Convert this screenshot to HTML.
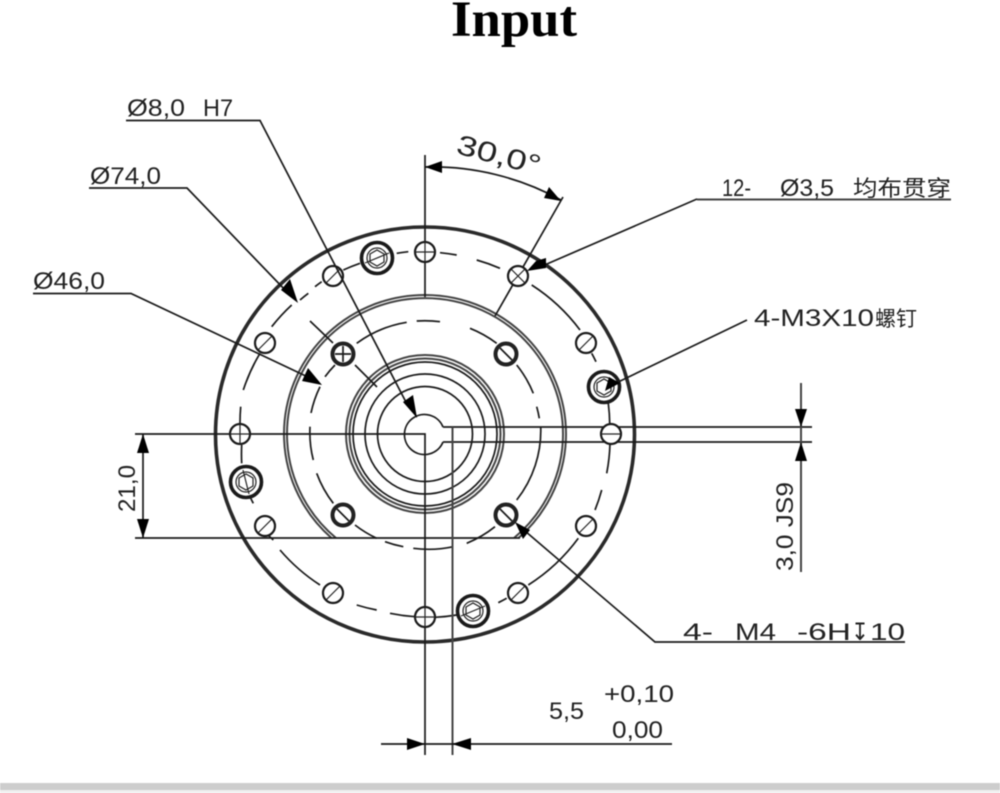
<!DOCTYPE html>
<html><head><meta charset="utf-8"><style>
html,body{margin:0;padding:0;background:#fff;width:1000px;height:793px;overflow:hidden}
svg{display:block;filter:blur(.5px)}
text{font-family:"Liberation Sans","Noto Sans CJK SC",sans-serif;font-size:24px;fill:#222}
.l{fill:none;stroke:#1a1a1a;stroke-width:1.7}
.g{fill:none;stroke:#444;stroke-width:2}
.d{fill:none;stroke:#1a1a1a;stroke-width:1.7}
.h{fill:#fff;stroke:#1a1a1a;stroke-width:2.2}
.t{fill:none;stroke:#222;stroke-width:1.2}
.a{fill:#000;stroke:none}
</style></head><body>
<svg width="1000" height="793" viewBox="0 0 1000 793" xmlns="http://www.w3.org/2000/svg">
<rect width="1000" height="793" fill="#fff"/>
<rect x="0" y="783" width="1000" height="7" fill="#cdcdcd"/>
<rect x="0" y="790" width="1000" height="3" fill="#f0f0f0"/>
<text x="451" y="36" textLength="126" lengthAdjust="spacingAndGlyphs" style="font-family:'Liberation Serif',serif;font-weight:bold;font-size:51px;fill:#000">Input</text>

<!-- main rings -->
<ellipse cx="425" cy="434.5" rx="209.5" ry="207.5" fill="none" stroke="#2a2a2a" stroke-width="3.6"/>
<path class="g" d="M331.5 538 A141 139 0 1 1 518.500 538"/>
<path class="g" d="M336 538 A138 136 0 1 1 514 538"/>
<circle cx="425" cy="434" r="79" class="g"/>
<circle cx="425" cy="434" r="75.5" class="g"/>
<circle cx="425" cy="434" r="72" class="l"/>
<circle cx="425" cy="434" r="60" class="l"/>
<circle cx="425" cy="434" r="47.5" class="l"/>

<!-- bolt circle -->
<path class="d" d="M440 252.7A185.5 183 0 0 1 456.7 255M476.7 260A185.5 183 0 0 1 500 268.3M531.7 285A185.5 183 0 0 1 580 330M591.7 353.3A185.5 183 0 0 1 596 361.7M608.3 403.3A185.5 183 0 0 1 609.7 423.3M610 443.3A185.5 183 0 0 1 606.7 473.3M601.7 490A185.5 183 0 0 1 595 510M578.3 538.3A185.5 183 0 0 1 528.3 585M506.7 598.3A185.5 183 0 0 1 498.3 602.7M456.7 615A185.5 183 0 0 1 435 617.3M415 616.7A185.5 183 0 0 1 390 613.3M376.7 610A185.5 183 0 0 1 356.7 605M320 585A185.5 183 0 0 1 280 550M273.3 540A185.5 183 0 0 1 268 535M253.3 503.3A185.5 183 0 0 1 250 496.7M241.7 463.3A185.5 183 0 0 1 241.7 445M240 423.3A185.5 183 0 0 1 240.7 406.7M243.3 390A185.5 183 0 0 1 260 353.3M271.7 326.7A185.5 183 0 0 1 291.7 305M300 300A185.5 183 0 0 1 308.3 293.3M315 286.7A185.5 183 0 0 1 321.7 281.7M343.3 270A185.5 183 0 0 1 360 263.3M396.7 253.3A185.5 183 0 0 1 408.3 251.7"/>
<!-- inner pitch circle -->
<path class="d" d="M356.7 343.3A115 113 0 0 1 406.7 322.3M416.7 321A115 113 0 0 1 440 321.7M470 328.3A115 113 0 0 1 496.7 343.3M516.7 365A115 113 0 0 1 533.3 393.3M536.7 406.7A115 113 0 0 1 539.3 418.3M540.7 426.7A115 113 0 0 1 516.7 500M495 526.7A115 113 0 0 1 466.7 543.3M453.3 546.7A115 113 0 0 1 413.3 548.3M403.3 546.7A115 113 0 0 1 385 541.7M376.7 538.3A115 113 0 0 1 355 525M333.3 503.3A115 113 0 0 1 316.7 473.3M313.3 460A115 113 0 0 1 310 426.7M311 413A115 113 0 0 1 320 386.7M325 376.7A115 113 0 0 1 335 365"/>
<path class="l" d="M310 321L333 343M355 365L377 387"/>

<!-- key bore -->
<path class="l" d="M443 427A20 20 0 1 0 443 442"/>
<path class="l" d="M443 427H812M443 442H812"/>
<path class="l" d="M135 434H425V755M135 538H520"/>
<path class="g" d="M452.500 427V755"/>
<path class="l" d="M425 155V242M425 262V297"/>
<path class="l" d="M563 197L495 316"/>

<!-- 12 thru holes -->
<circle class="h" cx="518" cy="276" r="10"/><circle class="h" cx="586" cy="343" r="10"/>
<circle class="h" cx="611" cy="434" r="10"/><circle class="h" cx="586" cy="526" r="10"/>
<circle class="h" cx="518" cy="593" r="10"/><circle class="h" cx="425" cy="617" r="10"/>
<circle class="h" cx="333" cy="593" r="10"/><circle class="h" cx="265" cy="526" r="10"/>
<circle class="h" cx="240" cy="434" r="10"/><circle class="h" cx="265" cy="343" r="10"/>
<circle class="h" cx="333" cy="276" r="10"/><circle class="h" cx="425" cy="252" r="10"/>
<path class="t" d="M415 252H435M425 242V262M415 617H435M425 607V627M230 434H250M240 424V444M601 434H621M511 283L525 269M511 269L525 283M258 350L272 336M579 350L593 336M258 533L272 519M579 533L593 519M326 600L340 586M326 283L340 269M511 600L525 586"/>

<!-- M4 holes -->
<circle cx="343" cy="354" r="10.500" fill="#fff" stroke="#222" stroke-width="4"/>
<circle cx="506" cy="354" r="10.500" fill="#fff" stroke="#222" stroke-width="4"/>
<circle cx="506" cy="515" r="10.500" fill="#fff" stroke="#222" stroke-width="4"/>
<circle cx="343" cy="515" r="10.500" fill="#fff" stroke="#222" stroke-width="4"/>
<path class="l" d="M335 354H351M343 346V362M500 348L512 360M337 509L349 521M500 509L512 521"/>

<!-- screws -->
<circle cx="377" cy="258" r="15.500" fill="#fff" stroke="#1a1a1a" stroke-width="3.600"/><circle cx="377" cy="258" r="10" class="t"/>
<path class="t" d="M370 254L377 250L384 254V262L377 266L370 262Z M365 263L389 253"/>
<circle cx="604" cy="387" r="15.500" fill="#fff" stroke="#1a1a1a" stroke-width="3.600"/><circle cx="604" cy="387" r="10" class="t"/>
<path class="t" d="M597 383L604 379L611 383V391L604 395L597 391Z"/>
<circle cx="473" cy="611" r="15.500" fill="#fff" stroke="#1a1a1a" stroke-width="3.600"/><circle cx="473" cy="611" r="10" class="t"/>
<path class="t" d="M466 607L473 603L480 607V615L473 619L466 615Z M461 616L485 606"/>
<circle cx="246" cy="482" r="15.500" fill="#fff" stroke="#1a1a1a" stroke-width="3.600"/><circle cx="246" cy="482" r="10" class="t"/>
<path class="t" d="M239 478L246 474L253 478V486L246 490L239 486Z M243 470L249 494"/>

<!-- leaders -->
<path class="l" d="M126 120.500H260L408 406"/>
<path class="a" d="M417 418L403 402L413 395Z"/>
<path class="l" d="M89 188H187L288 293"/>
<path class="a" d="M298 303L281 290L290 279Z"/>
<path class="l" d="M33 293.500H131L310 378"/>
<path class="a" d="M322 385L302 381L308 368Z"/>
<path class="g" d="M697 199.500H951" stroke-width="2.200"/>
<path class="l" d="M697 199L540 267"/>
<path class="a" d="M527 271L536 261L546 258L546 268Z"/>
<path class="l" d="M747 320L614 384"/>
<path class="a" d="M605 391L609 377L620 383Z"/>
<path class="l" d="M905 642H655L525 531"/>
<path class="a" d="M515 522L530 530L523 539Z"/>

<!-- 30 deg arc -->
<path class="l" d="M425 167A267 267 0 0 1 561 200"/>
<path class="a" d="M425 167L442 161V173Z"/>
<path class="a" d="M561 201L544 198L549 187Z"/>

<!-- 21,0 -->
<path class="l" d="M143 434V538"/>
<path class="a" d="M143 434L137 453H149Z"/>
<path class="a" d="M143 538L137 519H149Z"/>

<!-- 3,0 JS9 -->
<path class="g" d="M801 383V572"/>
<path class="a" d="M801 427L795 409H807Z"/>
<path class="a" d="M801 442L795 461H807Z"/>

<!-- 5,5 -->
<path class="l" d="M381 744H672"/>
<path class="a" d="M425 744L407 738V750Z"/>
<path class="a" d="M452 744L471 738V750Z"/>

<!-- labels -->
<text x="127" y="116" textLength="58" lengthAdjust="spacingAndGlyphs">Ø8,0</text>
<text x="203" y="116" textLength="30" lengthAdjust="spacingAndGlyphs">H7</text>
<text x="90" y="184" textLength="71" lengthAdjust="spacingAndGlyphs">Ø74,0</text>
<text x="33" y="289" textLength="72" lengthAdjust="spacingAndGlyphs">Ø46,0</text>
<text transform="translate(455 153) rotate(15)" textLength="86" lengthAdjust="spacingAndGlyphs" style="font-size:28px">30,0°</text>
<text x="722" y="196" textLength="29" lengthAdjust="spacingAndGlyphs">12-</text>
<text x="780" y="196" textLength="54" lengthAdjust="spacingAndGlyphs">Ø3,5</text>
<text x="853" y="196" textLength="98" lengthAdjust="spacingAndGlyphs" style="font-size:22px">均布贯穿</text>
<text x="754" y="326" textLength="120" lengthAdjust="spacingAndGlyphs">4-M3X10</text>
<text x="875" y="326" textLength="42" lengthAdjust="spacingAndGlyphs" style="font-size:21px">螺钉</text>
<text x="683" y="640" textLength="30" lengthAdjust="spacingAndGlyphs">4-</text>
<text x="735" y="640" textLength="41" lengthAdjust="spacingAndGlyphs">M4</text>
<text x="797" y="640" textLength="54" lengthAdjust="spacingAndGlyphs">-6H</text>
<text x="851" y="640" textLength="18" lengthAdjust="spacingAndGlyphs">↧</text>
<text x="870" y="640" textLength="35" lengthAdjust="spacingAndGlyphs">10</text>
<text x="549" y="719" textLength="35" lengthAdjust="spacingAndGlyphs">5,5</text>
<text x="604" y="702" textLength="70" lengthAdjust="spacingAndGlyphs">+0,10</text>
<text x="612" y="738" textLength="51" lengthAdjust="spacingAndGlyphs">0,00</text>
<text transform="translate(135 512) rotate(-90)" textLength="47" lengthAdjust="spacingAndGlyphs">21,0</text>
<text transform="translate(793 571) rotate(-90)" textLength="89" lengthAdjust="spacingAndGlyphs">3,0 JS9</text>
</svg>
</body></html>
